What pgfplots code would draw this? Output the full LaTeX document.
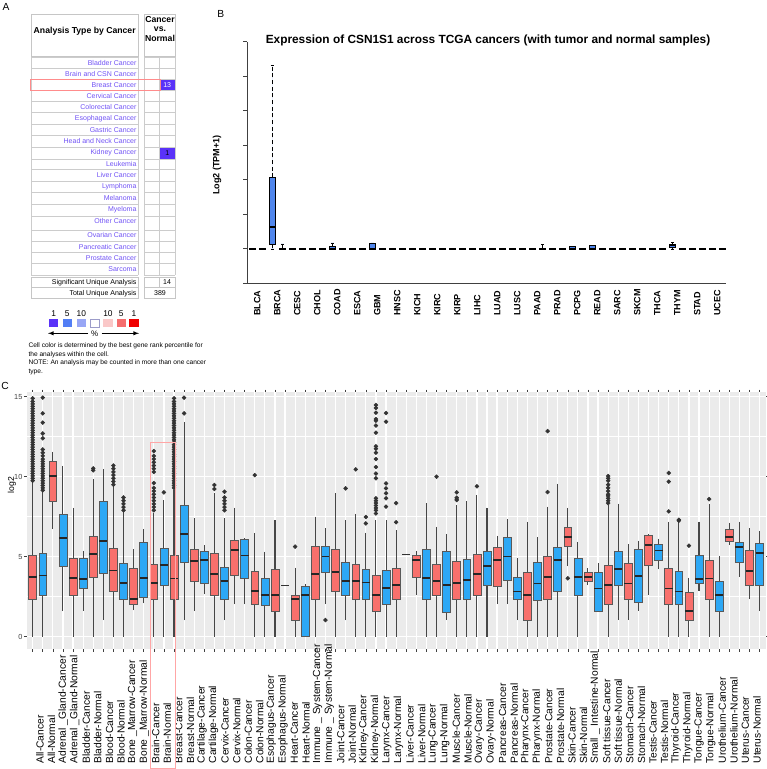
\documentclass[border=0pt]{standalone}
\usepackage{fontspec}
\setmainfont{Liberation Sans}
\usepackage{pgfplots}
\pgfplotsset{compat=1.18}
\usepgfplotslibrary{statistics}
\newcommand{\fs}[1]{\fontsize{#1}{#1}\selectfont}
\definecolor{cR}{RGB}{248,112,108}
\definecolor{cB}{RGB}{45,168,245}
\definecolor{bgC}{RGB}{235,235,235}
\definecolor{oncoP}{RGB}{112,82,245}
\definecolor{onco1}{RGB}{90,50,248}
\definecolor{onco5}{RGB}{82,126,245}
\definecolor{onco10}{RGB}{152,166,245}
\definecolor{oncoR10}{RGB}{250,200,200}
\definecolor{oncoR5}{RGB}{245,110,110}
\definecolor{oncoR1}{RGB}{240,0,0}
\definecolor{bB}{RGB}{80,134,236}
% panel C box: pos, colour, lower whisker, Q1, median, Q3, upper whisker
\newcommand{\CB}[7]{\addplot[fill=#2, draw=black!65, line width=0.45pt,
  boxplot prepared={draw position=#1, lower whisker=#3, lower quartile=#4,
  median=#5, upper quartile=#6, upper whisker=#7}] coordinates {};}
% panel B box: pos, lower whisker, Q1, median, Q3, upper whisker
\newcommand{\BB}[6]{\addplot[fill=bB, draw=none,
  boxplot prepared={draw position=#1, lower whisker=#2, lower quartile=#3,
  median=#4, upper quartile=#5, upper whisker=#6}] coordinates {};}
\begin{document}
\begin{tikzpicture}[x=0.75pt,y=0.75pt]
\useasboundingbox (0,0) rectangle (767,769);

% ================= PANEL A =================
\node[font=\fs{7.7}] at (6,762) {A};
\draw[gray!45, line width=0.5] (31,755) rectangle (138.3,712.3);
\draw[gray!45, line width=0.5] (144.3,755) rectangle (175,712.3);
\node[font=\bfseries\fs{6.5}] at (84.7,738) {Analysis Type by Cancer};
\node[font=\bfseries\fontsize{6.5}{7}\selectfont, align=center] at (160,740) {Cancer\\vs.\\Normal};
% value cells
\fill[onco1] (159.5,{769-79.3}) rectangle (175,{769-90.7});
\fill[onco1] (159.5,{769-147.4}) rectangle (175,{769-159});
\foreach \yy in {57.3,68.4,79.3,90.7,101.4,112.7,124,135.4,147.4,159,169.7,181,192.5,204,216.2,230.5,241.5,252.2,263.5,275}{
  \draw[gray!40, line width=0.5] (31,{769-\yy}) -- (138.3,{769-\yy});
  \draw[gray!40, line width=0.5] (144.3,{769-\yy}) -- (175,{769-\yy});
}
\foreach \xx in {31,138.3,144.3,159.5,175}{
  \draw[gray!40, line width=0.5] (\xx,{769-57.3}) -- (\xx,{769-275});
}
\foreach \n/\yy in {Bladder Cancer/62.7, Brain and CSN Cancer/74, Breast Cancer/84.8,
  Cervical Cancer/95.7, Colorectal Cancer/107, Esophageal Cancer/118.3, Gastric Cancer/129.7,
  Head and Neck Cancer/141, Kidney Cancer/153, Leukemia/164, Liver Cancer/175.3,
  Lymphoma/186.7, Melanoma/198.2, Myeloma/209.7, Other Cancer/221.3, Ovarian Cancer/235,
  Pancreatic Cancer/246.7, Prostate Cancer/257.7, Sarcoma/269.3}{
  \node[anchor=east, inner sep=0pt, text=oncoP, font=\fs{5.25}] at (136.7,{769-\yy}) {\n};
}
\node[text=white, font=\fs{5.25}] at (167.2,{769-85}) {13};
\node[text=black, font=\fs{5.25}] at (167.2,{769-153.2}) {1};
\draw[red!45, line width=0.4] (30.7,{769-79.3}) rectangle (160,{769-90.7});
% summary rows
\draw[gray!45, line width=0.5] (31,{769-277.3}) rectangle (138.3,{769-298.3});
\draw[gray!45, line width=0.5] (31,{769-287.8}) -- (138.3,{769-287.8});
\draw[gray!45, line width=0.5] (144.3,{769-277.3}) rectangle (175,{769-298.3});
\draw[gray!45, line width=0.5] (144.3,{769-287.8}) -- (175,{769-287.8});
\draw[gray!45, line width=0.5] (159.5,{769-277.3}) -- (159.5,{769-287.8});
\node[anchor=east, inner sep=0pt, font=\fs{5.25}] at (136.7,{769-282.4}) {Significant Unique Analysis};
\node[anchor=east, inner sep=0pt, font=\fs{5.25}] at (136.7,{769-293.2}) {Total Unique Analysis};
\node[font=\fs{5.25}] at (167,{769-282.4}) {14};
\node[font=\fs{5.25}] at (160,{769-293.2}) {389};
% colour legend
\foreach \xx/\t in {53.7/1,67.3/5,81.3/10,108/10,121.3/5,134/1}{
  \node[font=\fs{6.3}] at (\xx,{769-313.3}) {\t};
}
\foreach \xx/\c in {53.7/onco1,67.3/onco5,81.3/onco10,108/oncoR10,121.3/oncoR5,134/oncoR1}{
  \fill[\c] ({\xx-4.6},{769-319}) rectangle ({\xx+4.6},{769-327.3});
}
\draw[blue!30!gray!60, line width=0.5] (90.5,{769-319.3}) rectangle (99.5,{769-327});
\draw[-latex, line width=0.5] (88,{769-333.3}) -- (48,{769-333.3});
\draw[-latex, line width=0.5] (101.5,{769-333.3}) -- (139,{769-333.3});
\node[font=\fs{6}] at (94.6,{769-333.8}) {\%};
\foreach \t/\yy in {Cell color is determined by the best gene rank percentile for/346,
  the analyses within the cell./354.5,
  NOTE: An analysis may be counted in more than one cancer/363.2, type./371.7}{
  \node[anchor=west, inner sep=0pt, font=\fs{4.95}] at (28.3,{769-\yy}) {\t};
}

% ================= PANEL B =================
\node[font=\fs{7.7}] at (220.7,755) {B};
\node[font=\bfseries\fs{8.9}] at (488,{769-40}) {Expression of CSN1S1 across TCGA cancers (with tumor and normal samples)};
\node[font=\bfseries\fs{6.8}, rotate=90] at (217,{769-165}) {Log2 (TPM+1)};
\begin{axis}[
  at={(185.25pt,364.275pt)}, anchor=south west, scale only axis,
  width=359.5pt, height=181.2pt,
  xmin=0.47, xmax=48.4, ymin=-1, ymax=6,
  axis x line*=bottom, axis y line*=left,
  axis line style={black!75, line width=0.6pt},
  ytick={-1,0,...,6}, yticklabels={},
  xtick={1.5,3.5,...,47.5},
  xticklabels={BLCA,BRCA,CESC,CHOL,COAD,ESCA,GBM,HNSC,KICH,KIRC,KIRP,LIHC,LUAD,LUSC,PAAD,PRAD,PCPG,READ,SARC,SKCM,THCA,THYM,STAD,UCEC},
  x tick style={draw=none}, y tick style={black!75, line width=0.6pt},
  tick align=outside, major tick length=3pt,
  xticklabel style={rotate=90, anchor=west, font=\bfseries\fs{6.8}},
  xticklabel shift=25pt,
  boxplot/draw direction=y, boxplot/box extend=0.65, boxplot/whisker extend=0.3,
  boxplot/every whisker/.style={draw=black, densely dashed, line width=0.4pt},
  boxplot/every median/.style={draw=black, line width=1.5pt},
  clip=false,
]
\pgfplotsinvokeforeach{1,2,5,6,7,8,10,11,12,14,15,16,17,18,19,20,21,22,23,24,25,26,27,28,29,31,32,34,36,37,38,39,40,41,42,44,45,46,47,48}{
  \BB{#1}{0}{0}{0}{0}{0}
}
\BB{3}{0}{0.14}{0.62}{2.07}{5.31}
\BB{4}{0}{0}{0}{0}{0.14}
\BB{9}{0}{0}{0}{0.07}{0.17}
\BB{13}{0}{0}{0}{0.17}{0.17}
\BB{30}{0}{0}{0}{0}{0.12}
\BB{33}{0}{0}{0}{0.07}{0.08}
\BB{35}{0}{0}{0}{0.09}{0.1}
\BB{43}{0}{0.05}{0.1}{0.14}{0.19}
\end{axis}

% ================= PANEL C =================
\node[font=\fs{7.7}] at (5,383) {C};
\node[font=\fs{6.5}, rotate=90] at (12,{769-485}) {log2};
\begin{axis}[
  at={(19.95pt,90pt)}, anchor=south west, scale only axis,
  width=554.3pt, height=192.45pt,
  xmin=0.4, xmax=73.6, ymin=-0.77, ymax=15.27,
  axis background/.style={fill=bgC},
  axis line style={draw=none},
  xtick={1,...,73}, xticklabels={},
  ytick={0,5,10,15}, minor ytick={2.5,7.5,12.5},
  grid=both, major grid style={white, line width=0.9pt},
  minor grid style={white, line width=0.45pt},
  tick align=outside, major tick length=2pt, minor tick length=0pt,
  tick style={gray!50!black, line width=0.4pt},
  yticklabel style={font=\fs{5.5}, text=gray!50!black, inner sep=1pt},
  /pgf/number format/assume math mode=true,
  boxplot/draw direction=y, boxplot/box extend=0.78, boxplot/whisker extend=0,
  boxplot/every whisker/.style={draw=gray!55!black, line width=0.8pt},
  boxplot/every median/.style={draw=black!85, line width=1.3pt},
]
\CB{1}{cR}{0}{2.35}{3.73}{5.06}{9.7}
\CB{2}{cB}{0}{2.6}{3.83}{5.2}{9.1}
\CB{3}{cR}{6.73}{8.44}{10.04}{10.94}{11.56}
\CB{4}{cB}{1.6}{4.42}{6.17}{7.65}{10.67}
\CB{5}{cR}{0}{2.6}{3.69}{4.92}{8.06}
\CB{6}{cB}{1.63}{3.02}{3.6}{4.9}{5.38}
\CB{7}{cR}{0}{3.71}{5.17}{6.29}{9.83}
\CB{8}{cB}{1.04}{3.98}{5.98}{8.44}{10.46}
\CB{9}{cR}{0}{2.81}{4.13}{5.5}{9.4}
\CB{10}{cB}{0}{2.35}{3.35}{4.6}{7.8}
\CB{11}{cR}{1.65}{2.02}{2.35}{4.27}{5.46}
\CB{12}{cB}{2.08}{2.44}{3.69}{5.88}{6.71}
\CB{13}{cR}{0}{2.33}{3.35}{4.54}{7.7}
\CB{14}{cB}{0}{3.19}{4.5}{5.54}{8.54}
\CB{15}{cR}{0}{2.33}{3.63}{5.1}{9.2}
\CB{16}{cB}{1.02}{4.63}{6.44}{8.19}{13.4}
\CB{17}{cR}{1.6}{3.48}{4.73}{5.48}{7.4}
\CB{18}{cB}{2.65}{3.33}{4.79}{5.31}{5.73}
\CB{19}{cR}{0}{2.6}{3.92}{5.19}{8.96}
\CB{20}{cB}{1.02}{2.35}{3.48}{4.35}{7.4}
\CB{21}{cR}{2.02}{3.85}{5.42}{6.04}{8.06}
\CB{22}{cB}{2.02}{3.65}{5.08}{6.1}{6.15}
\CB{23}{cR}{0}{2.02}{2.85}{4.1}{6.46}
\CB{24}{cB}{0}{1.94}{2.6}{3.65}{5.31}
\CB{25}{cR}{0}{1.6}{2.6}{4.23}{7.29}
\addplot[gray!40!black, line width=1.2pt] coordinates {(25.61,3.21) (26.39,3.21)};
\CB{27}{cR}{0}{1.02}{2.35}{2.6}{4.31}
\CB{28}{cB}{0}{0}{2.6}{3.17}{3.29}
\CB{29}{cR}{0}{2.35}{3.94}{5.63}{7.5}
\CB{30}{cB}{2.04}{4.0}{5.02}{5.63}{6.77}
\CB{31}{cR}{0}{2.81}{4.04}{5.46}{8.96}
\CB{32}{cB}{1.02}{2.6}{3.5}{4.67}{7.27}
\CB{33}{cR}{0}{2.35}{3.5}{4.54}{7.69}
\CB{34}{cB}{0}{2.35}{3.38}{4.21}{6.5}
\CB{35}{cR}{0}{1.6}{2.6}{3.83}{7.29}
\CB{36}{cB}{0}{2.02}{3.04}{4.13}{7.29}
\CB{37}{cR}{0}{2.35}{3.21}{4.25}{6.65}
\addplot[gray!40!black, line width=1.2pt] coordinates {(37.61,5.13) (38.39,5.13)};
\CB{39}{cR}{2.6}{3.69}{4.81}{5.06}{5.38}
\CB{40}{cB}{0}{2.35}{3.65}{5.46}{8.33}
\CB{41}{cR}{0}{2.6}{3.5}{4.54}{6.88}
\CB{42}{cB}{1.04}{1.52}{3.21}{5.35}{6.42}
\CB{43}{cR}{0}{2.35}{3.35}{4.73}{8.23}
\CB{44}{cB}{0}{2.35}{3.56}{4.83}{8.48}
\CB{45}{cR}{0}{2.56}{3.94}{5.15}{8.85}
\CB{46}{cB}{0}{3.19}{4.42}{5.35}{8.06}
\CB{47}{cR}{2.04}{3.15}{4.81}{5.56}{6.31}
\CB{48}{cB}{2.04}{3.52}{5.02}{6.19}{7.35}
\CB{49}{cB}{1.02}{2.35}{2.83}{3.71}{4.92}
\CB{50}{cR}{0}{1.02}{2.6}{4.02}{7.19}
\CB{51}{cB}{0}{2.25}{3.33}{4.67}{6.21}
\CB{52}{cR}{0}{2.35}{3.73}{5.0}{8.13}
\CB{53}{cB}{0}{2.81}{4.81}{5.6}{9.56}
\CB{54}{cR}{4.4}{5.65}{6.25}{6.85}{8.06}
\CB{55}{cB}{0}{2.6}{3.73}{4.92}{5.94}
\CB{56}{cR}{3.23}{3.44}{3.75}{4.0}{4.27}
\CB{57}{cB}{1.6}{1.6}{3.02}{4.0}{4.58}
\CB{58}{cR}{0}{2.02}{3.21}{4.48}{8.23}
\CB{59}{cB}{1.04}{3.19}{4.21}{5.35}{8.31}
\CB{60}{cR}{1.04}{2.35}{3.33}{4.56}{5.79}
\CB{61}{cB}{1.63}{2.15}{3.81}{5.46}{6.0}
\CB{62}{cR}{2.6}{4.48}{5.71}{6.35}{6.42}
\CB{63}{cB}{4.21}{4.79}{5.38}{5.79}{6.13}
\CB{64}{cR}{0}{2.02}{3.02}{4.29}{7.19}
\CB{65}{cB}{0}{2.02}{2.83}{4.06}{7.19}
\CB{66}{cR}{0}{1.02}{1.6}{2.77}{3.69}
\CB{67}{cB}{2.83}{3.33}{3.6}{5.1}{7.19}
\CB{68}{cR}{0}{2.35}{3.63}{4.79}{8.31}
\CB{69}{cB}{0}{1.6}{2.6}{3.44}{5.06}
\CB{70}{cR}{5.73}{5.98}{6.25}{6.69}{7.13}
\CB{71}{cB}{3.75}{4.67}{5.6}{5.92}{7.19}
\CB{72}{cR}{2.35}{3.19}{4.1}{5.38}{6.77}
\CB{73}{cB}{1.6}{3.23}{5.21}{5.81}{6.63}
% outliers
\addplot[only marks, mark=*, mark size=1.45pt, black!80] coordinates {
 (1,9.75)(1,9.9)(1,10.05)(1,10.2)(1,10.35)(1,10.5)(1,10.65)(1,10.8)(1,10.95)(1,11.1)(1,11.25)(1,11.4)
 (1,11.55)(1,11.7)(1,11.85)(1,12.0)(1,12.15)(1,12.3)(1,12.45)(1,12.6)(1,12.75)(1,12.9)(1,13.05)(1,13.2)
 (1,13.35)(1,13.5)(1,13.65)(1,13.8)(1,13.95)(1,14.1)(1,14.25)(1,14.4)(1,14.55)(1,14.7)(1,14.9)
 (2,9.15)(2,9.3)(2,9.45)(2,9.6)(2,9.75)(2,9.9)(2,10.05)(2,10.2)(2,10.35)(2,10.5)(2,10.65)(2,10.8)
 (2,10.95)(2,11.1)(2,11.3)(2,11.5)(2,11.7)(2,12.4)(2,12.7)(2,13.38)(2,13.96)(2,14.94)
 (7,10.4)(7,10.52)
 (9,9.5)(9,9.7)(9,9.9)(9,10.1)(9,10.3)(9,10.5)(9,10.7)
 (10,7.9)(10,8.1)(10,8.3)(10,8.5)(10,8.7)
 (13,7.9)(13,8.1)(13,8.3)(13,8.5)(13,8.7)(13,8.9)(13,9.1)(13,9.3)(13,9.6)(13,10.3)(13,10.5)(13,10.7)
 (13,10.9)(13,11.1)(13,11.3)(13,11.6)
 (14,9.02)
 (15,9.3)(15,9.45)(15,9.6)(15,9.75)(15,9.9)(15,10.05)(15,10.2)(15,10.35)(15,10.5)(15,10.65)(15,10.8)
 (15,10.95)(15,11.1)(15,11.25)(15,11.4)(15,11.55)(15,11.7)(15,11.85)(15,12.0)(15,12.15)(15,12.3)
 (15,12.45)(15,12.6)(15,12.75)(15,12.9)(15,13.05)(15,13.2)(15,13.35)(15,13.5)(15,13.65)(15,13.8)
 (15,13.95)(15,14.1)(15,14.25)(15,14.4)(15,14.55)(15,14.7)(15,14.9)
 (16,13.96)(16,14.94)
 (19,9.23)(19,9.48)
 (20,7.9)(20,8.1)(20,8.3)(20,8.5)(20,8.7)(20,9.06)
 (23,10.1) (27,5.63) (30,1.04) (32,9.27) (33,10.46) (34,7.08)(34,7.48)
 (35,7.7)(35,7.9)(35,8.05)(35,8.2)(35,8.35)(35,8.5)(35,8.65)(35,9.9)(35,10.2)(35,10.6)(35,11.1)
 (35,11.5)(35,11.75)(35,11.9)(35,12.75)(35,13.2)(35,13.5)(35,13.6)(35,14.0)(35,14.3)(35,14.48)
 (36,8.13)(36,8.65)(36,8.96)(36,9.27)(36,9.58)(36,13.44)(36,13.98)
 (37,7.15)(37,8.35) (41,10.0)
 (43,8.54)(43,8.6)(43,8.69)(43,9.02) (45,9.4)
 (52,9.04)(52,12.85) (54,3.65)
 (58,8.35)(58,8.5)(58,8.65)(58,8.8)(58,8.9)(58,9.1)(58,9.3)(58,9.5)(58,9.75)(58,9.9)(58,10.04)
 (64,7.83)(64,9.69)(64,10.23) (65,7.25)(65,7.31) (66,5.69) (68,8.6)
};
\end{axis}
% category names of panel C
\begin{axis}[
  at={(19.95pt,90pt)}, anchor=south west, scale only axis,
  width=554.3pt, height=192.45pt,
  xmin=-0.159, xmax=63.75, ymin=0, ymax=1,
  axis line style={draw=none}, ytick=\empty,
  xtick={1,...,63}, major tick length=0pt,
  xticklabels={All-Cancer,All-Normal,Adrenal \_Gland-Cancer,Adrenal \_Gland-Normal,Bladder-Cancer,Bladder-Normal,Blood-Cancer,Blood-Normal,Bone \_Marrow-Cancer,Bone \_Marrow-Normal,Brain-Cancer,Brain-Normal,Breast-Cancer,Breast-Normal,Cartilage-Cancer,Cartilage-Normal,Cervix-Cancer,Cervix-Normal,Colon-Cancer,Colon-Normal,Esophagus-Cancer,Esophagus-Normal,Heart-Cancer,Heart-Normal,Immune \_ System-Cancer,Immune \_ System-Normal,Joint-Cancer,Joint-Normal,Kidney-Cancer,Kidney-Normal,Larynx-Cancer,Larynx-Normal,Liver-Cancer,Liver-Normal,Lung-Cancer,Lung-Normal,Muscle-Cancer,Muscle-Normal,Ovary-Cancer,Ovary-Normal,Pancreas-Cancer,Pancreas-Normal,Pharynx-Cancer,Pharynx-Normal,Prostate-Cancer,Prostate-Normal,Skin-Cancer,Skin-Normal,Small \_ Intestine-Normal,Soft tissue-Cancer,Soft tissue-Normal,Stomach-Cancer,Stomach-Normal,Testis-Cancer,Testis-Normal,Thyroid-Cancer,Thyroid-Normal,Tongue-Cancer,Tongue-Normal,Urothelium-Cancer,Urothelium-Normal,Uterus-Cancer,Uterus-Normal},
  xticklabel style={rotate=90, anchor=west, font=\fs{7.7}, inner sep=0pt},
  xticklabel shift=86pt,
]
\end{axis}
\draw[red!35, line width=0.45] (150,{769-442}) rectangle (175,1);
\end{tikzpicture}
\end{document}
